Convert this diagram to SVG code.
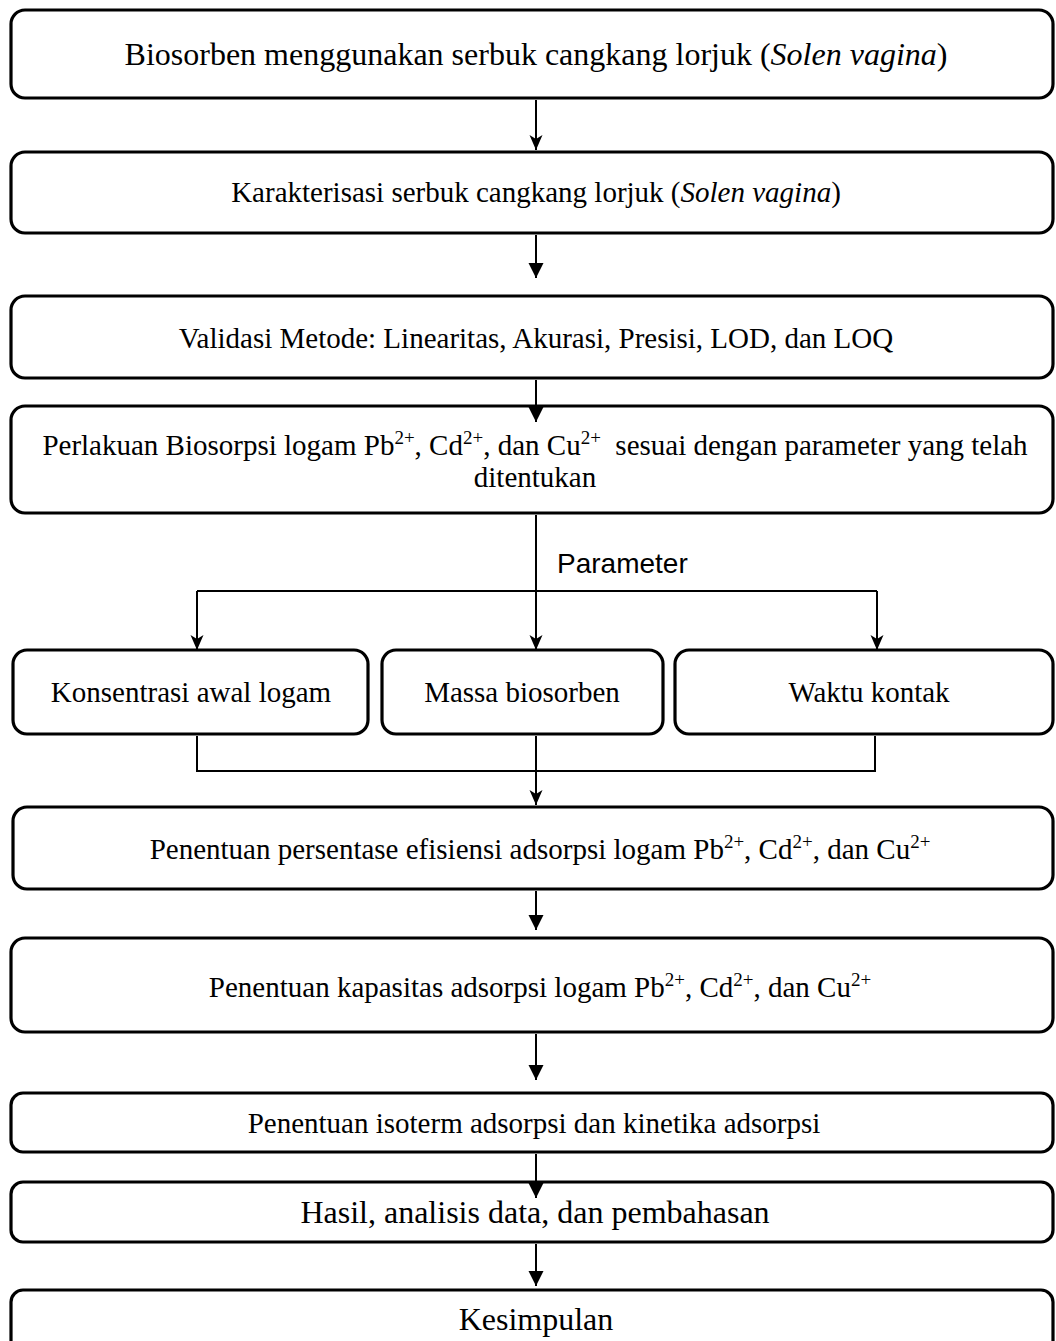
<svg xmlns="http://www.w3.org/2000/svg" width="1056" height="1341" viewBox="0 0 1056 1341">
<style>
.box{fill:#fff;stroke:#000;stroke-width:3.2}
.t{font-family:"Liberation Serif","Times New Roman",serif;font-size:29px;fill:#000;text-anchor:middle}
.big{font-size:32px}
.sup{font-size:19px}
.lbl{font-family:"Liberation Sans",Arial,sans-serif;font-size:28px;fill:#000}
.c{fill:none;stroke:#000;stroke-width:2}
</style>
<defs>
<marker id="tri" markerUnits="userSpaceOnUse" markerWidth="16" markerHeight="18" refX="15" refY="7.5" orient="auto">
<path d="M0,0 L15,7.5 L0,15 Z" fill="#000"/>
</marker>
<marker id="stl" markerUnits="userSpaceOnUse" markerWidth="16" markerHeight="16" refX="15" refY="6.5" orient="auto">
<path d="M0,0 L15,6.5 L0,13 L4,6.5 Z" fill="#000"/>
</marker>
</defs>

<g id="n1">
<rect class="box" x="11" y="10" width="1042" height="88" rx="14"/>
<text class="t big" x="536" y="65">Biosorben menggunakan serbuk cangkang lorjuk (<tspan font-style="italic">Solen vagina</tspan>)</text>
</g>
<g id="n2">
<rect class="box" x="11" y="152" width="1042" height="81" rx="14"/>
<text class="t" x="536" y="202">Karakterisasi serbuk cangkang lorjuk (<tspan font-style="italic">Solen vagina</tspan>)</text>
</g>
<g id="n3">
<rect class="box" x="11" y="296" width="1042" height="82" rx="14"/>
<text class="t" x="536" y="348">Validasi Metode: Linearitas, Akurasi, Presisi, LOD, dan LOQ</text>
</g>
<g id="n4">
<rect class="box" x="11" y="406" width="1042" height="107" rx="14"/>
<text class="t" x="535" y="455" xml:space="preserve">Perlakuan Biosorpsi logam Pb<tspan class="sup" dy="-11">2+</tspan><tspan dy="11">, Cd</tspan><tspan class="sup" dy="-11">2+</tspan><tspan dy="11">, dan Cu</tspan><tspan class="sup" dy="-11">2+</tspan><tspan dy="11">  sesuai dengan parameter yang telah</tspan></text>
<text class="t" x="535" y="487">ditentukan</text>
</g>
<g id="param-label">
<text class="lbl" x="557" y="573">Parameter</text>
</g>
<g id="n5a">
<rect class="box" x="13" y="650" width="355" height="84" rx="14"/>
<text class="t" x="191" y="702">Konsentrasi awal logam</text>
</g>
<g id="n5b">
<rect class="box" x="382" y="650" width="281" height="84" rx="14"/>
<text class="t" x="522" y="702">Massa biosorben</text>
</g>
<g id="n5c">
<rect class="box" x="675" y="650" width="378" height="84" rx="14"/>
<text class="t" x="869" y="702">Waktu kontak</text>
</g>
<g id="n6">
<rect class="box" x="13" y="807" width="1040" height="82" rx="14"/>
<text class="t" x="540" y="859">Penentuan persentase efisiensi adsorpsi logam Pb<tspan class="sup" dy="-11">2+</tspan><tspan dy="11">, Cd</tspan><tspan class="sup" dy="-11">2+</tspan><tspan dy="11">, dan Cu</tspan><tspan class="sup" dy="-11">2+</tspan></text>
</g>
<g id="n7">
<rect class="box" x="11" y="938" width="1042" height="94" rx="14"/>
<text class="t" x="540" y="997">Penentuan kapasitas adsorpsi logam Pb<tspan class="sup" dy="-11">2+</tspan><tspan dy="11">, Cd</tspan><tspan class="sup" dy="-11">2+</tspan><tspan dy="11">, dan Cu</tspan><tspan class="sup" dy="-11">2+</tspan></text>
</g>
<g id="n8">
<rect class="box" x="11" y="1093" width="1042" height="59" rx="12"/>
<text class="t" x="534" y="1133">Penentuan isoterm adsorpsi dan kinetika adsorpsi</text>
</g>
<g id="n9">
<rect class="box" x="11" y="1182" width="1042" height="60" rx="12"/>
<text class="t big" x="535" y="1223">Hasil, analisis data, dan pembahasan</text>
</g>
<g id="n10">
<rect class="box" x="11" y="1290" width="1042" height="80" rx="12"/>
<text class="t big" x="536" y="1330">Kesimpulan</text>
</g>

<g id="connectors">
<line class="c" x1="536" y1="100" x2="536" y2="150" marker-end="url(#stl)"/>
<line class="c" x1="536" y1="235" x2="536" y2="278" marker-end="url(#tri)"/>
<line class="c" x1="536" y1="380" x2="536" y2="422" marker-end="url(#tri)"/>
<polyline class="c" points="536,515 536,591"/>
<polyline class="c" points="197,591 877,591"/>
<line class="c" x1="197" y1="591" x2="197" y2="650" marker-end="url(#stl)"/>
<line class="c" x1="536" y1="591" x2="536" y2="650" marker-end="url(#stl)"/>
<line class="c" x1="877" y1="591" x2="877" y2="650" marker-end="url(#stl)"/>
<polyline class="c" points="197,736 197,771 875,771 875,736"/>
<line class="c" x1="536" y1="736" x2="536" y2="805" marker-end="url(#stl)"/>
<line class="c" x1="536" y1="891" x2="536" y2="930" marker-end="url(#tri)"/>
<line class="c" x1="536" y1="1034" x2="536" y2="1080" marker-end="url(#tri)"/>
<line class="c" x1="536" y1="1154" x2="536" y2="1198" marker-end="url(#tri)"/>
<line class="c" x1="536" y1="1244" x2="536" y2="1286" marker-end="url(#tri)"/>
</g>
</svg>
